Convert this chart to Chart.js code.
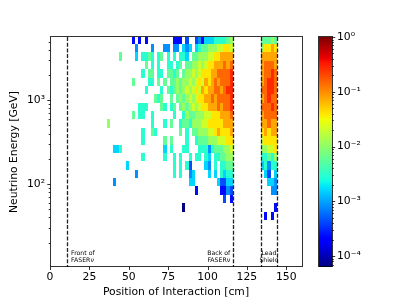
<!DOCTYPE html>
<html>
<head>
<meta charset="utf-8">
<script src="https://cdn.jsdelivr.net/npm/chart.js@4.4.1/dist/chart.umd.min.js"></script>
<style>
  html, body { margin: 0; padding: 0; background: #fff; }
</style>
</head>
<body>
<canvas id="myChart" width="407" height="305"></canvas>
<script>
// position bins are 2 cm wide, energy bins are listed top edge first (GeV)
const binWidth = 2;
const energyEdges = [5902, 4688, 3724, 2958, 2350, 1866, 1483, 1178, 935.4, 743.0, 590.2,
  468.8, 372.4, 295.8, 235.0, 186.6, 148.3, 117.8, 93.5, 74.3, 59.0, 46.9, 37.2, 29.6];

// normalised interaction rate for each level code '0'..'f'
const rateLevels = [6.3e-5, 1.2e-4, 2.3e-4, 4.4e-4, 8.3e-4, 1.6e-3, 3.0e-3, 5.8e-3,
  1.1e-2, 2.1e-2, 4.0e-2, 7.6e-2, 0.145, 0.275, 0.525, 1];

// FASERnu volume: one string per energy row, bins 16..57 (32-116 cm), '.' = empty
const faserFirstBin = 16;
const faserRows = [
  "..........2.2.2." + ".......222.3..342555666678",
  "...........4...." + "4...44.44.545.567788899aa9",
  "......7....5.667" + "6.67.6.6.665.7788899aabbbb",
  "..............7." + "6.6..66.67.7788989aabbbcbc",
  ".............6.7" + "7.66.7767.788989aaabbccccd",
  "..........7....6" + "6.7.7.778788989a9babcbcccd",
  "..............6." + "...6.767878989a9babbccbcdd",
  "................" + ".767..7.7878989aabbcbccccd",
  "............666." + "...76.67.7878989aabbbcbccd",
  "..........7.66.." + "6......6..687788899aaabbbc",
  "..8............." + "6...6.7..677688899aaaaabbb",
  ".............6.." + "76.......7.6.7788899abaaab",
  ".............6.." + "....7.7....6..6777888999aa",
  "....556........." + "....5.6...66...66646777889",
  ".............6.." + "....6..6.6..6.66.65.667788",
  "........5......." + ".......6.6.63....54.6.6677",
  "...........4...." + ".......6.6..45....5.5.6566",
  "....4..........." + "............55.......53355",
  "................" + "..............2.......2243",
  "................" + ".......................3.2",
  "................" + "..........0...............",
];

// lead shield: bins 67..71 (134-144 cm)
const leadFirstBin = 67;
const leadRows = [
  "77787", "8aaba", "bbbbb", "bcccb", "bccdc", "bcddc", "ccddc", "bcdcc",
  "cccdc", "bcccc", "bbcbb", "ababb", "9aaaa", "8899a", "66768", "56466",
  ".53.5", "..554", "...44", ".....", "....2", ".2.2.",
];

// detector boundaries (cm) and their labels
const boundaries = [10.5, 116, 134, 144];
const regionLabels = [
  { lines: ['Front of', 'FASER\u03bd'], at: 10.5, align: 'left' },
  { lines: ['Back of', 'FASER\u03bd'], at: 116, align: 'right' },
  { lines: ['Lead', 'Shield'], at: 139, align: 'center' },
];

const FONT = "'DejaVu Sans', sans-serif";
const rateMin = 6.31e-5, rateMax = 1;

function buildCells(rows, firstBin) {
  const out = [];
  rows.forEach((row, k) => {
    [...row].forEach((ch, j) => {
      if (ch === '.') return;
      const bin = firstBin + j;
      out.push({
        x: (bin + 0.5) * binWidth,
        y: Math.sqrt(energyEdges[k] * energyEdges[k + 1]),
        x0: bin * binWidth, x1: (bin + 1) * binWidth,
        e0: energyEdges[k + 1], e1: energyEdges[k],
        v: rateLevels[parseInt(ch, 16)],
      });
    });
  });
  return out;
}
const cells = buildCells(faserRows, faserFirstBin).concat(buildCells(leadRows, leadFirstBin));

function jet(t) {
  const f = pts => {
    for (let i = 1; i < pts.length; i++) {
      if (t <= pts[i][0]) {
        const [a0, b0] = pts[i - 1], [a1, b1] = pts[i];
        return b0 + (b1 - b0) * (t - a0) / (a1 - a0);
      }
    }
    return pts[pts.length - 1][1];
  };
  t = Math.max(0, Math.min(1, t));
  const r = f([[0, 0], [0.35, 0], [0.66, 1], [0.89, 1], [1, 0.5]]);
  const g = f([[0, 0], [0.125, 0], [0.375, 1], [0.64, 1], [0.91, 0], [1, 0]]);
  const b = f([[0, 0.5], [0.11, 1], [0.34, 1], [0.65, 0], [1, 0]]);
  return `rgb(${Math.round(r * 255)},${Math.round(g * 255)},${Math.round(b * 255)})`;
}
const rateToT = v => (Math.log10(v) - Math.log10(rateMin)) / (Math.log10(rateMax) - Math.log10(rateMin));

const SUP = { '0': '\u2070', '1': '\u00b9', '2': '\u00b2', '3': '\u00b3', '4': '\u2074', '-': '\u207b' };
function powLabel(v) {
  const e = Math.log10(v);
  if (Math.abs(e - Math.round(e)) > 1e-6) return '';
  return '10' + String(Math.round(e)).split('').map(c => SUP[c]).join('');
}
// values m*10^e inside [min, max] for tick marks
function logTickValues(min, max) {
  const out = [];
  for (let e = Math.floor(Math.log10(min)); e <= Math.ceil(Math.log10(max)); e++) {
    for (let m = 1; m < 10; m++) {
      const v = m * Math.pow(10, e);
      if (v >= min * 0.9999 && v <= max * 1.0001) out.push({ v, major: m === 1 });
    }
  }
  return out;
}

const heatmap = {
  id: 'heatmap',
  beforeDatasetsDraw(chart) {
    const { ctx, chartArea: a, scales: { x, y } } = chart;
    ctx.save();
    ctx.beginPath();
    ctx.rect(a.left, a.top, a.right - a.left, a.bottom - a.top);
    ctx.clip();
    chart.data.datasets[0].data.forEach(c => {
      const px0 = Math.round(x.getPixelForValue(c.x0)), px1 = Math.round(x.getPixelForValue(c.x1));
      const py0 = Math.round(y.getPixelForValue(c.e1)), py1 = Math.round(y.getPixelForValue(c.e0));
      ctx.fillStyle = jet(rateToT(c.v));
      ctx.fillRect(px0, py0, px1 - px0, py1 - py0);
    });
    ctx.restore();
  },
  afterDraw(chart) {
    const { ctx, chartArea: a, scales: { x, y, cb } } = chart;
    ctx.save();

    // boundary lines
    ctx.strokeStyle = '#222';
    ctx.lineWidth = 1.3;
    ctx.setLineDash([4, 1.7]);
    boundaries.forEach(b => {
      const px = Math.round(x.getPixelForValue(b)) + 0.5;
      ctx.beginPath();
      ctx.moveTo(px, a.top);
      ctx.lineTo(px, a.bottom);
      ctx.stroke();
    });
    ctx.setLineDash([]);

    // region labels
    ctx.fillStyle = '#000';
    ctx.font = `6.2px ${FONT}`;
    ctx.textBaseline = 'alphabetic';
    regionLabels.forEach(l => {
      let px = x.getPixelForValue(l.at);
      if (l.align === 'left') px += 4.5;
      if (l.align === 'right') px -= 2.5;
      ctx.textAlign = l.align;
      l.lines.forEach((t, i) => ctx.fillText(t, px, a.bottom - 12 + i * 6.8));
    });

    // frame
    ctx.strokeStyle = 'rgba(0,0,0,0.8)';
    ctx.lineWidth = 1;
    ctx.strokeRect(a.left + 0.5, a.top - 0.5, a.right - a.left, a.bottom - a.top);

    // x ticks
    ctx.beginPath();
    for (let v = 0; v <= 150; v += 25) {
      const px = Math.round(x.getPixelForValue(v)) + 0.5;
      ctx.moveTo(px, a.bottom - 0.5);
      ctx.lineTo(px, a.bottom + 3);
    }
    // y ticks
    logTickValues(y.min, y.max).forEach(t => {
      const py = Math.round(y.getPixelForValue(t.v)) + 0.5;
      ctx.moveTo(a.left + 0.5, py);
      ctx.lineTo(a.left + 0.5 - (t.major ? 3.2 : 1.8), py);
    });
    ctx.stroke();

    // colorbar
    const cbL = a.right + 17, cbW = 13;
    for (let py = Math.floor(cb.top); py < cb.bottom; py++) {
      const v = cb.getValueForPixel(py + 0.5);
      ctx.fillStyle = jet(rateToT(v));
      ctx.fillRect(cbL, py, cbW, 1);
    }
    ctx.strokeStyle = 'rgba(0,0,0,0.8)';
    ctx.strokeRect(cbL - 0.5, cb.top - 0.5, cbW + 1, cb.bottom - cb.top);
    ctx.beginPath();
    logTickValues(cb.min, cb.max).forEach(t => {
      const py = Math.round(cb.getPixelForValue(t.v)) + 0.5;
      ctx.moveTo(cbL + cbW, py);
      ctx.lineTo(cbL + cbW + (t.major ? 3.2 : 1.8), py);
    });
    ctx.stroke();
    ctx.restore();
  }
};

const tickFont = { family: FONT, size: 10.8 };

new Chart(document.getElementById('myChart').getContext('2d'), {
  type: 'scatter',
  data: {
    datasets: [{ data: cells, pointRadius: 0, pointHoverRadius: 0 }],
  },
  options: {
    responsive: false,
    animation: false,
    events: [],
    layout: { padding: { top: 37, left: 0, right: 0, bottom: 0 } },
    plugins: { legend: { display: false }, tooltip: { enabled: false } },
    scales: {
      x: {
        type: 'linear', position: 'bottom', min: 0, max: 160,
        grid: { display: false, drawTicks: false }, border: { display: false },
        ticks: { stepSize: 25, includeBounds: false, padding: 4, color: '#000', font: tickFont, maxRotation: 0 },
        title: { display: true, text: 'Position of Interaction [cm]', color: '#000', font: tickFont, padding: { top: 0, bottom: 6 } },
        afterFit: s => { s.height = 38; },
      },
      y: {
        type: 'logarithmic', position: 'left', min: 10.23, max: 5690,
        grid: { display: false, drawTicks: false }, border: { display: false },
        ticks: { autoSkip: false, padding: 5, color: '#000', font: tickFont, callback: v => powLabel(v) },
        title: { display: true, text: 'Neutrino Energy [GeV]', color: '#000', font: tickFont, padding: { top: 8, bottom: 0 } },
        afterFit: s => { s.width = 50; },
      },
      cb: {
        type: 'logarithmic', position: 'right', min: rateMin, max: rateMax,
        grid: { display: false, drawTicks: true, tickLength: 32 }, border: { display: false },
        ticks: { autoSkip: false, padding: 3, color: '#000', font: tickFont, callback: v => powLabel(v) },
        afterFit: s => { s.width = 105; },
      },
    },
  },
  plugins: [heatmap],
});
</script>
</body>
</html>
